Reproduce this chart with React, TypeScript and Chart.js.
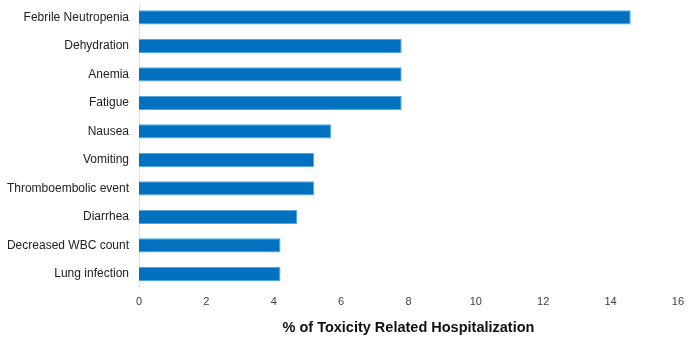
import React, { useEffect, useRef } from "react";
import { Chart, registerables } from "chart.js";
Chart.register(...registerables);

const categories = [
  "Febrile Neutropenia",
  "Dehydration",
  "Anemia",
  "Fatigue",
  "Nausea",
  "Vomiting",
  "Thromboembolic event",
  "Diarrhea",
  "Decreased WBC count",
  "Lung infection",
];
const values = [14.6, 7.8, 7.8, 7.8, 5.7, 5.2, 5.2, 4.7, 4.2, 4.2];
const axisTitle = "% of Toxicity Related Hospitalization";

export default function App() {
  const ref = useRef<HTMLCanvasElement>(null);
  useEffect(() => {
    const chart = new Chart(ref.current!, {
      type: "bar",
      data: {
        labels: categories,
        datasets: [
          {
            data: values,
            backgroundColor: "#0070C0",
            borderColor: "#4FA8DE",
            borderWidth: 1,
            categoryPercentage: 1,
            barPercentage: 0.5,
          },
        ],
      },
      options: {
        indexAxis: "y",
        animation: false,
        responsive: false,
        layout: { padding: { top: 3, right: 13, bottom: 0, left: 0 } },
        plugins: { legend: { display: false }, tooltip: { enabled: false } },
        scales: {
          x: {
            min: 0,
            max: 16,
            ticks: {
              stepSize: 2,
              color: "#404040",
              font: { family: "Liberation Sans, Arial", size: 11 },
              padding: 7,
            },
            grid: { display: false, drawTicks: false },
            border: { display: false },
            title: {
              display: true,
              text: axisTitle,
              color: "#111",
              font: { family: "Liberation Sans, Arial", size: 14.5, weight: "bold" },
              padding: { top: 12, bottom: 17 },
            },
            afterFit: (s: any) => {
              s.height = 66;
            },
          },
          y: {
            ticks: {
              color: "#222",
              font: { family: "Liberation Sans, Arial", size: 12 },
              padding: 10,
            },
            grid: { display: false, drawTicks: false },
            border: { display: true, color: "#E4E4E4", width: 1 },
            afterFit: (s: any) => {
              s.width = 139;
              s.paddingTop = 0;
              s.paddingBottom = 0;
            },
          },
        },
      },
    });
    return () => chart.destroy();
  }, []);
  return (
    <div style={{ position: "fixed", left: 0, top: 0, width: 691, height: 354, background: "#fff" }}>
      <canvas ref={ref} width={691} height={354} />
    </div>
  );
}
